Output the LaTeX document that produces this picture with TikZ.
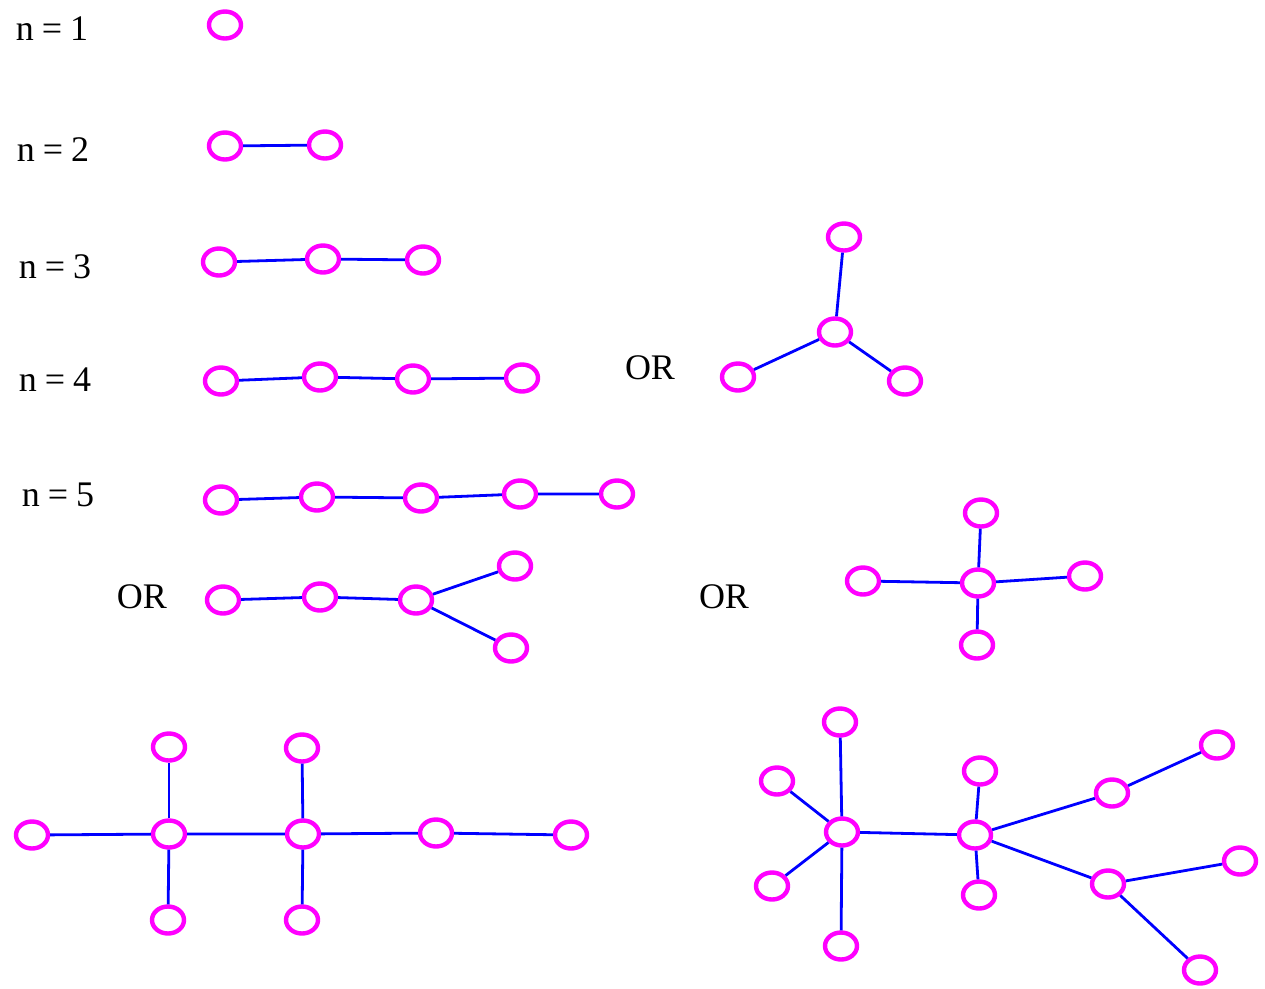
\documentclass[tikz,border=0pt]{standalone}
\usepackage{fontspec}
\setmainfont{Liberation Serif}
\usetikzlibrary{shapes.geometric}
\definecolor{vmag}{RGB}{255,0,255}
\definecolor{eblue}{RGB}{0,0,255}
\tikzset{
  vtx/.style={ellipse, draw=vmag, line width=4.4pt, minimum width=32pt, minimum height=27pt, inner sep=0pt},
  edge/.style={draw=eblue, line width=2.8pt},
  lbl/.style={font=\fontsize{36}{38}\selectfont, inner sep=0pt}
}
\newcommand{\nlab}[1]{n\hspace{0.22em}=\hspace{0.22em}#1}
\begin{document}
\begin{tikzpicture}[x=1pt,y=-1pt]
\useasboundingbox[fill=white] (0,0) rectangle (1265,988);
% labels
\node[lbl] (l1) at (52,29) {\nlab{1}};
\node[lbl] (l2) at (53,150) {\nlab{2}};
\node[lbl] (l3) at (55,267) {\nlab{3}};
\node[lbl] (l4) at (55,380) {\nlab{4}};
\node[lbl] (l5) at (58,495) {\nlab{5}};
\node[lbl] (or1) at (650,368) {OR};
\node[lbl] (or2) at (142,597) {OR};
\node[lbl] (or3) at (724,597) {OR};
% n=1
\node[vtx] (a1) at (225,25) {};
% n=2
\node[vtx] (b1) at (225,146) {};
\node[vtx] (b2) at (325,145) {};
\draw[edge] (b1) -- (b2);
% n=3
\node[vtx] (c1) at (219,262) {};
\node[vtx] (c2) at (323,259) {};
\node[vtx] (c3) at (423,260) {};
\draw[edge] (c1) -- (c2) -- (c3);
% n=4 chain
\node[vtx] (d1) at (221,381) {};
\node[vtx] (d2) at (320,377) {};
\node[vtx] (d3) at (413,379) {};
\node[vtx] (d4) at (522,378) {};
\draw[edge] (d1) -- (d2) -- (d3) -- (d4);
% n=4 star
\node[vtx] (e0) at (835,332) {};
\node[vtx] (e1) at (844,237) {};
\node[vtx] (e2) at (738,377) {};
\node[vtx] (e3) at (905,381) {};
\draw[edge] (e0) -- (e1);
\draw[edge] (e0) -- (e2);
\draw[edge] (e0) -- (e3);
% n=5 chain
\node[vtx] (f1) at (221,500) {};
\node[vtx] (f2) at (317,497) {};
\node[vtx] (f3) at (421,498) {};
\node[vtx] (f4) at (520,494) {};
\node[vtx] (f5) at (617,494) {};
\draw[edge] (f1) -- (f2) -- (f3) -- (f4) -- (f5);
% n=5 fork
\node[vtx] (g1) at (223,600) {};
\node[vtx] (g2) at (320,597) {};
\node[vtx] (g3) at (416,600) {};
\node[vtx] (g4) at (515,566) {};
\node[vtx] (g5) at (511,648) {};
\draw[edge] (g1) -- (g2) -- (g3);
\draw[edge] (g3) -- (g4);
\draw[edge] (g3) -- (g5);
% n=5 star
\node[vtx] (h0) at (978,583) {};
\node[vtx] (h1) at (981,513) {};
\node[vtx] (h2) at (863,581) {};
\node[vtx] (h3) at (1085,576) {};
\node[vtx] (h4) at (977,645) {};
\draw[edge] (h0) -- (h1);
\draw[edge] (h0) -- (h2);
\draw[edge] (h0) -- (h3);
\draw[edge] (h0) -- (h4);
% bottom left tree
\node[vtx] (i1) at (32,835) {};
\node[vtx] (i2) at (169,834) {};
\node[vtx] (i3) at (303,834) {};
\node[vtx] (i4) at (436,833) {};
\node[vtx] (i5) at (571,835) {};
\node[vtx] (i6) at (169,747) {};
\node[vtx] (i7) at (302,748) {};
\node[vtx] (i8) at (168,920) {};
\node[vtx] (i9) at (302,920) {};
\draw[edge] (i1) -- (i2) -- (i3) -- (i4) -- (i5);
\draw[edge] (i2) -- (i6);
\draw[edge] (i2) -- (i8);
\draw[edge] (i3) -- (i7);
\draw[edge] (i3) -- (i9);
% bottom right tree
\node[vtx] (j0) at (842,832) {};
\node[vtx] (j1) at (840,722) {};
\node[vtx] (j2) at (777,781) {};
\node[vtx] (j3) at (772,886) {};
\node[vtx] (j4) at (841,946) {};
\node[vtx] (k0) at (975,835) {};
\node[vtx] (k1) at (980,771) {};
\node[vtx] (k2) at (979,895) {};
\node[vtx] (m0) at (1112,793) {};
\node[vtx] (m1) at (1217,745) {};
\node[vtx] (p0) at (1108,884) {};
\node[vtx] (p1) at (1240,861) {};
\node[vtx] (p2) at (1200,970) {};
\draw[edge] (j0) -- (j1);
\draw[edge] (j0) -- (j2);
\draw[edge] (j0) -- (j3);
\draw[edge] (j0) -- (j4);
\draw[edge] (j0) -- (k0);
\draw[edge] (k0) -- (k1);
\draw[edge] (k0) -- (k2);
\draw[edge] (k0) -- (m0);
\draw[edge] (m0) -- (m1);
\draw[edge] (k0) -- (p0);
\draw[edge] (p0) -- (p1);
\draw[edge] (p0) -- (p2);
\end{tikzpicture}
\end{document}
